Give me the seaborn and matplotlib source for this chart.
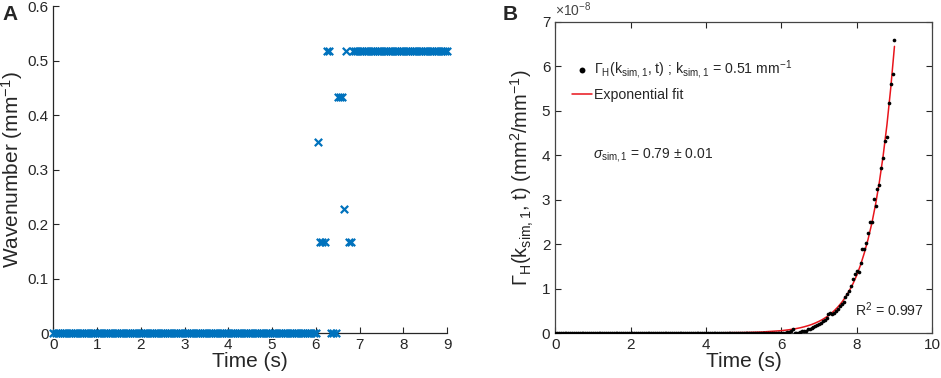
import numpy as np
import pandas as pd
import matplotlib
matplotlib.use('Agg')
import matplotlib.pyplot as plt
import seaborn as sns

# ---- panel A: dominant wavenumber vs time ----
t_zero_run = [round(0.05 * i, 2) for i in range(121)]  # 0 .. 6.0 at zero
wave_zero_run = [0.0] * len(t_zero_run)
t_transition = [6.05, 6.10, 6.15, 6.20, 6.25, 6.30, 6.35, 6.40, 6.45,
                6.50, 6.55, 6.60, 6.65, 6.70, 6.75, 6.80]
wave_transition = [0.351, 0.167, 0.167, 0.167, 0.517, 0.517, 0.0, 0.0, 0.0,
                   0.433, 0.433, 0.433, 0.228, 0.517, 0.167, 0.167]
t_plateau = [round(6.85 + 0.05 * i, 2) for i in range(44)]  # 6.85 .. 9.0
wave_plateau = [0.517] * len(t_plateau)

# ---- panel B: growth of spectral power (x 1e-8) ----
t_gamma_flat = [round(0.05 * i, 2) for i in range(120)]  # 0 .. 5.95
gamma_flat = [0.0] * len(t_gamma_flat)
t_gamma = [6.00, 6.05, 6.10, 6.15, 6.20, 6.25, 6.30, 6.35, 6.40, 6.45,
           6.50, 6.55, 6.60, 6.65, 6.70, 6.75, 6.80, 6.85, 6.90, 6.95,
           7.00, 7.05, 7.10, 7.15, 7.20, 7.25, 7.30, 7.35, 7.40, 7.45,
           7.50, 7.55, 7.60, 7.65, 7.70, 7.75, 7.80, 7.85, 7.90, 7.95,
           8.00, 8.05, 8.10, 8.15, 8.20, 8.25, 8.30, 8.35, 8.40, 8.45,
           8.50, 8.55, 8.60, 8.65, 8.70, 8.75, 8.80, 8.85, 8.90, 8.95, 9.00]
gamma = [0.00, 0.01, 0.00, 0.02, 0.03, 0.05, 0.10, -0.01, -0.01, 0.00,
         0.02, 0.04, 0.05, 0.05, 0.08, 0.09, 0.11, 0.13, 0.15, 0.18,
         0.21, 0.23, 0.26, 0.29, 0.33, 0.42, 0.45, 0.43, 0.46, 0.50,
         0.55, 0.61, 0.65, 0.69, 0.80, 0.88, 0.95, 1.05, 1.21, 1.33,
         1.40, 1.38, 1.58, 1.88, 1.90, 2.02, 2.25, 2.49, 2.49, 3.02,
         2.86, 3.25, 3.32, 3.72, 3.93, 4.31, 4.42, 5.17, 5.60, 5.82, 6.60]

t_fit = [0, 1, 2, 3, 4, 5, 5.5, 6.0, 6.1, 6.2, 6.3, 6.4, 6.5, 6.6, 6.7, 6.8,
         6.9, 7.0, 7.1, 7.2, 7.3, 7.4, 7.5, 7.6, 7.7, 7.8, 7.9, 8.0, 8.1,
         8.2, 8.3, 8.4, 8.5, 8.6, 8.7, 8.8, 8.9, 9.0]
gamma_fit = [0, 0, 0.0001, 0.0004, 0.0022, 0.011, 0.024, 0.053, 0.063, 0.073,
             0.086, 0.101, 0.118, 0.139, 0.163, 0.191, 0.225, 0.264, 0.309,
             0.363, 0.426, 0.500, 0.587, 0.688, 0.808, 0.948, 1.11, 1.30,
             1.53, 1.80, 2.11, 2.47, 2.90, 3.40, 3.99, 4.68, 5.50, 6.45]

sns.set_style('ticks')
plt.rcParams['font.family'] = ['Liberation Sans', 'DejaVu Sans']
plt.rcParams['mathtext.fontset'] = 'custom'
plt.rcParams['mathtext.rm'] = 'Liberation Sans'
plt.rcParams['mathtext.it'] = 'Liberation Sans:italic'
plt.rcParams['xtick.direction'] = 'in'
plt.rcParams['ytick.direction'] = 'in'

fig = plt.figure(figsize=(9.41, 3.78), dpi=100)
axA = fig.add_axes([0.0567, 0.119, 0.4184, 0.865])
axB = fig.add_axes([0.590, 0.119, 0.4006, 0.823])

matlab_blue = '#0072BD'
dfA = pd.DataFrame({'t': t_zero_run + t_transition + t_plateau,
                    'k': wave_zero_run + wave_transition + wave_plateau})
sns.scatterplot(data=dfA, x='t', y='k', ax=axA, marker='x', s=28,
                color=matlab_blue, linewidth=1.6, clip_on=False, zorder=3)
axA.set_xlim(0, 9)
axA.set_ylim(0, 0.6)
axA.set_xticks(range(10))
axA.set_yticks([0, 0.1, 0.2, 0.3, 0.4, 0.5, 0.6])
axA.set_yticklabels(['0', '0.1', '0.2', '0.3', '0.4', '0.5', '0.6'])
axA.set_xlabel('Time (s)', fontsize=15, labelpad=0)
axA.set_ylabel('Wavenumber (mm$^{-1}$)', fontsize=15, labelpad=2)
axA.tick_params(labelsize=11, length=4, width=0.8, colors='#262626')
sns.despine(ax=axA)
for sp in axA.spines.values():
    sp.set_linewidth(0.9)
fig.text(0.003, 0.948, 'A', fontsize=15, fontweight='bold')

dfB = pd.DataFrame({'t': t_gamma_flat + t_gamma, 'g': gamma_flat + gamma})
dfFit = pd.DataFrame({'t': t_fit, 'g': gamma_fit})
sns.scatterplot(data=dfB, x='t', y='g', ax=axB, color='black', s=7,
                linewidth=0, zorder=3,
                label=r'$\Gamma_{\rm H}$(k$_{\rm sim,1}$, t) ; k$_{\rm sim,1}$ = 0.51 mm$^{-1}$')
sns.lineplot(data=dfFit, x='t', y='g', ax=axB, color='#E8141B', linewidth=1.1,
             label='Exponential fit', zorder=2)
axB.set_xlim(0, 10)
axB.set_ylim(0, 7)
axB.set_xticks([0, 2, 4, 6, 8, 10])
axB.set_yticks(range(8))
axB.set_xlabel('Time (s)', fontsize=15, labelpad=0)
axB.set_ylabel(r'$\Gamma_{\rm H}$(k$_{\rm sim,1}$, t) (mm$^2$/mm$^{-1}$)', fontsize=14.5, labelpad=4)
axB.tick_params(labelsize=11, length=4, width=0.8, colors='#262626',
                top=True, right=True)
for sp in axB.spines.values():
    sp.set_linewidth(0.9)
    sp.set_color('#444444')
axB.text(0.0, 1.008, r'$\times$10$^{-8}$', transform=axB.transAxes,
         fontsize=10, color='#444444', va='bottom')
leg = axB.legend(loc='upper left', frameon=False, fontsize=10.2,
                 bbox_to_anchor=(0.012, 0.925), handlelength=1.4,
                 handletextpad=0.1, labelspacing=0.55, markerscale=1.6)
axB.text(1.0, 4.0, r'$\sigma_{\rm sim,1}$ = 0.79 ± 0.01', fontsize=10, va='center')
axB.text(7.95, 0.52, r'R$^2$ = 0.997', fontsize=10.2, va='center')
fig.text(0.534, 0.948, 'B', fontsize=15, fontweight='bold')

fig.savefig('out.png', dpi=100)
